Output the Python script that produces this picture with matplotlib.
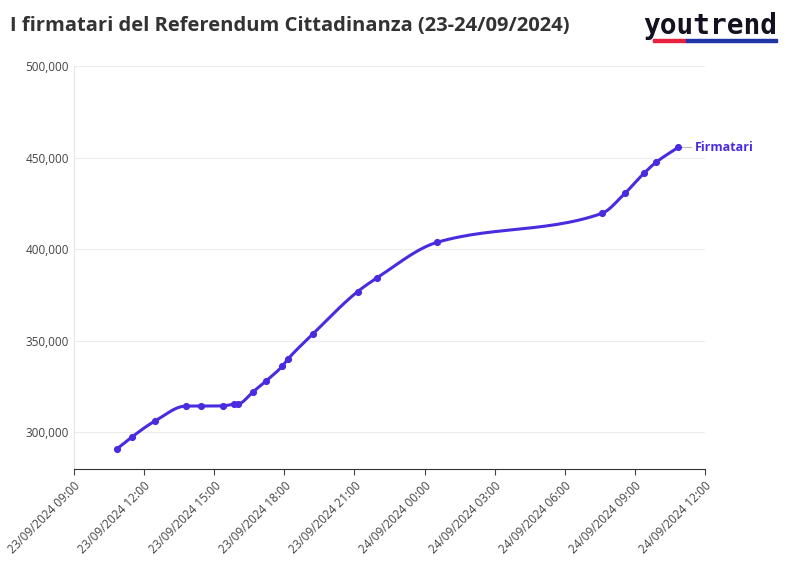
import numpy as np
import matplotlib.pyplot as plt
import matplotlib.dates as mdates
from datetime import datetime

# timestamps (HH:MM relative to 23/09/2024) and signatures
times = ["23 10:50", "23 11:29", "23 12:28", "23 13:48", "23 14:26", "23 15:23",
         "23 15:52", "23 16:02", "23 16:40", "23 17:14", "23 17:55", "23 18:10",
         "23 19:14", "23 21:08", "23 21:59", "24 00:31", "24 07:35", "24 08:34",
         "24 09:23", "24 09:54", "24 10:51"]
signers = [290700, 297300, 306000, 314200, 314200, 314300, 315300, 315400,
           322000, 328000, 336000, 340000, 353700, 376700, 384400, 403600,
           419500, 430400, 441400, 447400, 455600]

LINE = "#4a2be0"

dts = [datetime.strptime("2024/09/" + t, "%Y/%m/%d %H:%M") for t in times]
x = mdates.date2num(dts)
y = np.array(signers, dtype=float)


def monotone(x, y, n=30):
    # monotone cubic (Fritsch-Carlson) for smooth drawing between data points
    h = np.diff(x)
    d = np.diff(y) / h
    m = np.zeros_like(y)
    m[0], m[-1] = d[0], d[-1]
    for i in range(1, len(y) - 1):
        if d[i - 1] * d[i] <= 0:
            m[i] = 0
        else:
            w1 = 2 * h[i] + h[i - 1]
            w2 = h[i] + 2 * h[i - 1]
            m[i] = (w1 + w2) / (w1 / d[i - 1] + w2 / d[i])
    xs, ys = [], []
    for i in range(len(h)):
        t = np.linspace(0, 1, n)
        h00 = 2 * t**3 - 3 * t**2 + 1
        h10 = t**3 - 2 * t**2 + t
        h01 = -2 * t**3 + 3 * t**2
        h11 = t**3 - t**2
        xs.append(x[i] + t * h[i])
        ys.append(h00 * y[i] + h10 * h[i] * m[i] + h01 * y[i + 1] + h11 * h[i] * m[i + 1])
    return np.concatenate(xs), np.concatenate(ys)


plt.rcParams['font.family'] = ['Open Sans', 'DejaVu Sans']
fig = plt.figure(figsize=(7.94, 5.75), dpi=100)
ax = fig.add_axes([0.093, 0.185, 0.795, 0.70])

sx, sy = monotone(x, y)
ax.plot(sx, sy, color=LINE, lw=2.2)
ax.scatter(x, y, s=17, color=LINE, zorder=3)
ax.text(x[-1] + 0.03, y[-1], "Firmatari", color=LINE, fontsize=9,
        fontweight="bold", va="center")
ax.plot([x[-1] + 0.007, x[-1] + 0.022], [y[-1]] * 2, color="#bbbbbb", lw=0.8)

ax.set_xlim(mdates.date2num(datetime(2024, 9, 23, 9)), mdates.date2num(datetime(2024, 9, 24, 12)))
ax.set_ylim(280000, 500000)
ax.xaxis.set_major_locator(mdates.HourLocator(byhour=range(0, 24, 3)))
ax.xaxis.set_major_formatter(mdates.DateFormatter("%d/%m/%Y %H:%M"))
ax.set_yticks(range(300000, 500001, 50000))
ax.yaxis.set_major_formatter(plt.FuncFormatter(lambda v, p: f"{int(v):,}"))
ax.grid(axis="y", color="#ececec", lw=0.8)
ax.set_axisbelow(True)
for s in ["top", "right"]:
    ax.spines[s].set_visible(False)
ax.spines["left"].set_color("#e6e6e6")
ax.spines["bottom"].set_color("#333333")
ax.tick_params(axis="y", length=0, labelsize=8.5, colors="#444444")
ax.tick_params(axis="x", length=4, labelsize=8.5, colors="#444444")
plt.setp(ax.get_xticklabels(), rotation=45, ha="right", rotation_mode="anchor")

fig.text(0.012, 0.955, "I firmatari del Referendum Cittadinanza (23-24/09/2024)",
         fontsize=14.5, fontweight="bold", color="#333333", va="center")
fig.text(0.979, 0.955, "youtrend", fontsize=20, family="DejaVu Sans Mono",
         fontweight="bold", color="#14101f", ha="right", va="center")
fig.patches.append(plt.Rectangle((0.822, 0.927), 0.042, 0.006, color="#e8213f", transform=fig.transFigure))
fig.patches.append(plt.Rectangle((0.864, 0.927), 0.115, 0.006, color="#1f35a6", transform=fig.transFigure))

fig.savefig("out.png", dpi=100)
